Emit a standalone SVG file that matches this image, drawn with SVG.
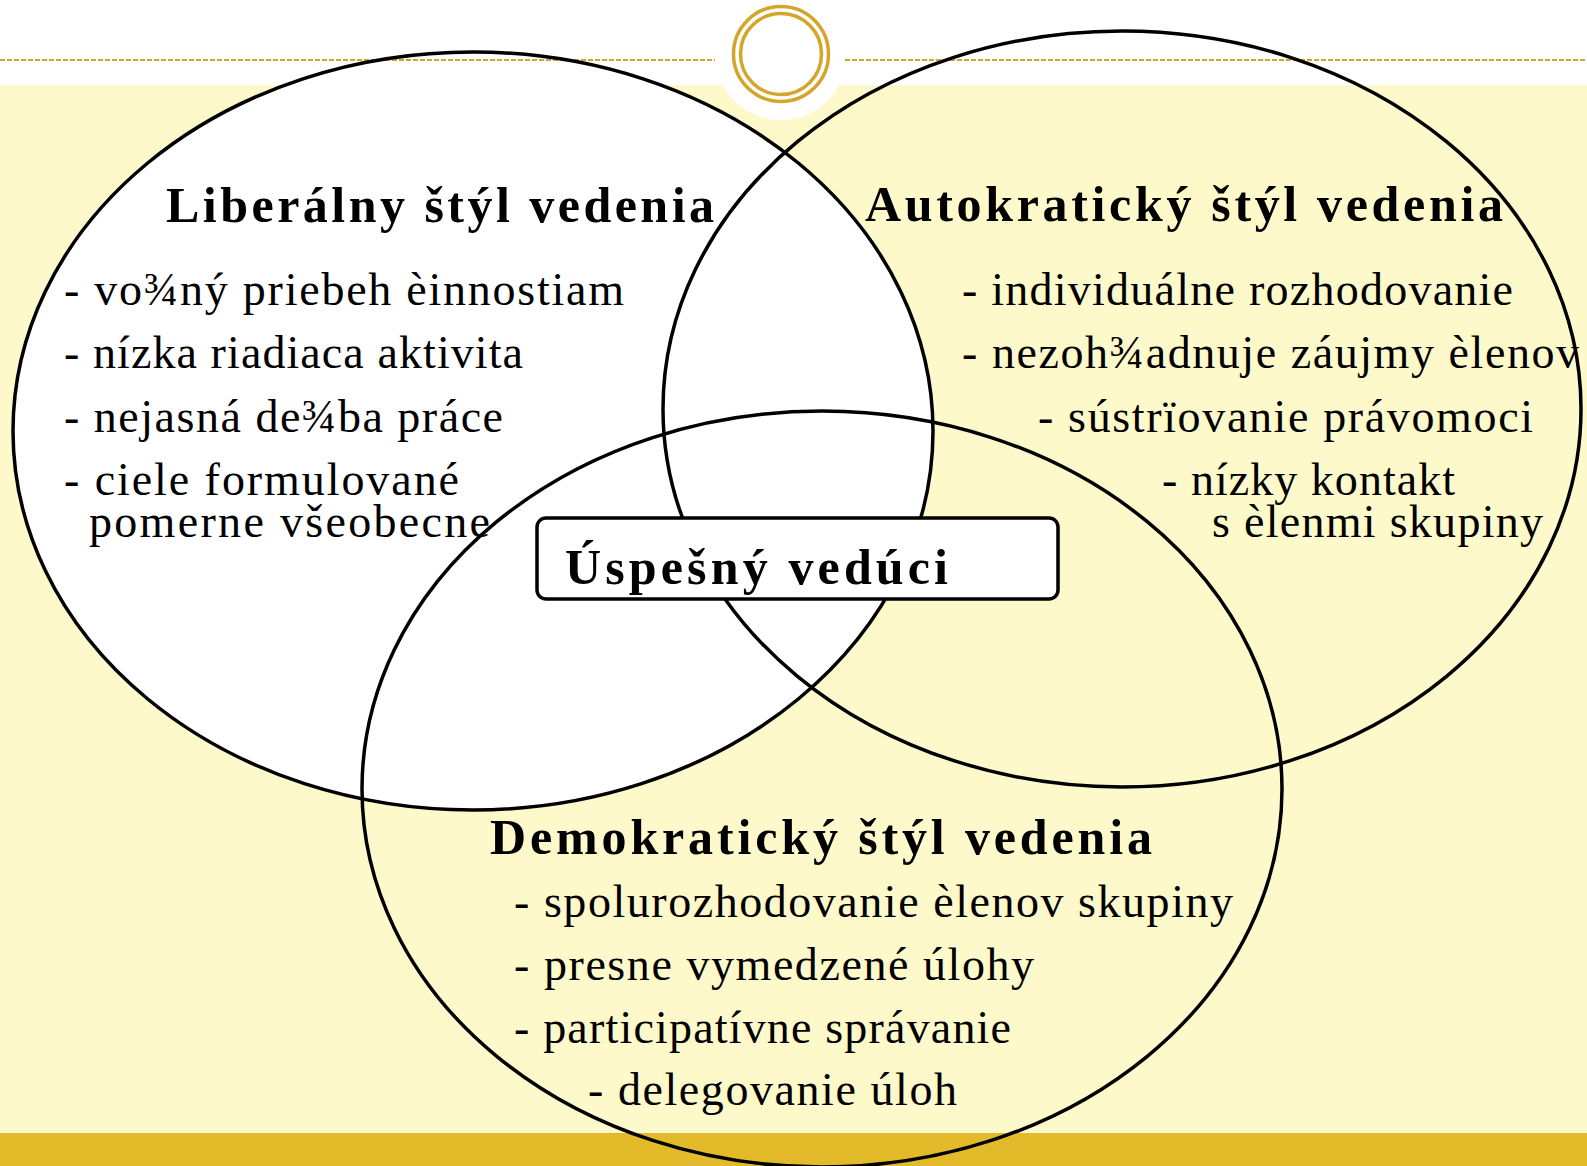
<svg xmlns="http://www.w3.org/2000/svg" width="1587" height="1166" viewBox="0 0 1587 1166">
  <style>
    .outline { fill: none; stroke: #000; stroke-width: 3.5; }
    .title { font-family: "Liberation Serif", "Times New Roman", serif; font-weight: bold; font-size: 50px; fill: #000; }
    .item { font-family: "Liberation Serif", "Times New Roman", serif; font-size: 46px; fill: #000; }
    .gold { fill: none; stroke: #D3A62B; stroke-width: 3.5; }
  </style>

  <!-- page background -->
  <rect x="0" y="0" width="1587" height="1166" fill="#FFFFFF"/>
  <rect x="0" y="85" width="1587" height="1048" fill="#FEF9CA"/>
  <rect x="0" y="1133" width="1587" height="33" fill="#E3BB2A"/>
  <circle cx="781" cy="54" r="66" fill="#FFFFFF"/>

  <!-- white area of the liberal set -->
  <ellipse cx="473" cy="431" rx="460" ry="379" fill="#FFFFFF"/>

  <!-- header rule and ornament -->
  <g id="header">
    <line x1="0" y1="60" x2="715" y2="60" stroke="#D3A62B" stroke-width="2" stroke-dasharray="5 2"/>
    <line x1="845" y1="60" x2="1587" y2="60" stroke="#D3A62B" stroke-width="2" stroke-dasharray="5 2"/>
    <circle class="gold" cx="781" cy="54" r="47.5"/>
    <circle class="gold" cx="781" cy="54" r="40.5"/>
  </g>

  <g id="liberal">
    <ellipse class="outline" cx="473" cy="431" rx="460" ry="379"/>
    <text class="title" x="166" y="222" textLength="548" lengthAdjust="spacing">Liberálny štýl vedenia</text>
    <text class="item" x="64" y="305" textLength="560" lengthAdjust="spacing">- vo¾ný priebeh èinnostiam</text>
    <text class="item" x="64" y="368" textLength="459" lengthAdjust="spacing">- nízka riadiaca aktivita</text>
    <text class="item" x="64" y="432" textLength="439" lengthAdjust="spacing">- nejasná de¾ba práce</text>
    <text class="item" x="64" y="495" textLength="395" lengthAdjust="spacing">- ciele formulované</text>
    <text class="item" x="89" y="537" textLength="401" lengthAdjust="spacing">pomerne všeobecne</text>
  </g>

  <g id="autocratic">
    <ellipse class="outline" cx="1122" cy="409" rx="459" ry="378"/>
    <text class="title" x="865" y="221" textLength="638" lengthAdjust="spacing">Autokratický štýl vedenia</text>
    <text class="item" x="962" y="305" textLength="551" lengthAdjust="spacing">- individuálne rozhodovanie</text>
    <text class="item" x="962" y="368" textLength="617" lengthAdjust="spacing">- nezoh¾adnuje záujmy èlenov</text>
    <text class="item" x="1038" y="432" textLength="495" lengthAdjust="spacing">- sústrïovanie právomoci</text>
    <text class="item" x="1162" y="495" textLength="293" lengthAdjust="spacing">- nízky kontakt</text>
    <text class="item" x="1212" y="537" textLength="331" lengthAdjust="spacing">s èlenmi skupiny</text>
  </g>

  <g id="democratic">
    <ellipse class="outline" cx="822" cy="789" rx="460" ry="378"/>
    <text class="title" x="490" y="854" textLength="662" lengthAdjust="spacing">Demokratický štýl vedenia</text>
    <text class="item" x="514" y="917" textLength="719" lengthAdjust="spacing">- spolurozhodovanie èlenov skupiny</text>
    <text class="item" x="514" y="980" textLength="520" lengthAdjust="spacing">- presne vymedzené úlohy</text>
    <text class="item" x="514" y="1043" textLength="497" lengthAdjust="spacing">- participatívne správanie</text>
    <text class="item" x="588" y="1105" textLength="369" lengthAdjust="spacing">- delegovanie úloh</text>
  </g>

  <g id="leader">
    <rect x="537" y="518" width="521" height="81" rx="9" ry="9" fill="#FFFFFF" stroke="#000" stroke-width="3.5"/>
    <text class="title" x="565" y="584" font-size="52" textLength="383" lengthAdjust="spacing">Úspešný vedúci</text>
  </g>
</svg>
